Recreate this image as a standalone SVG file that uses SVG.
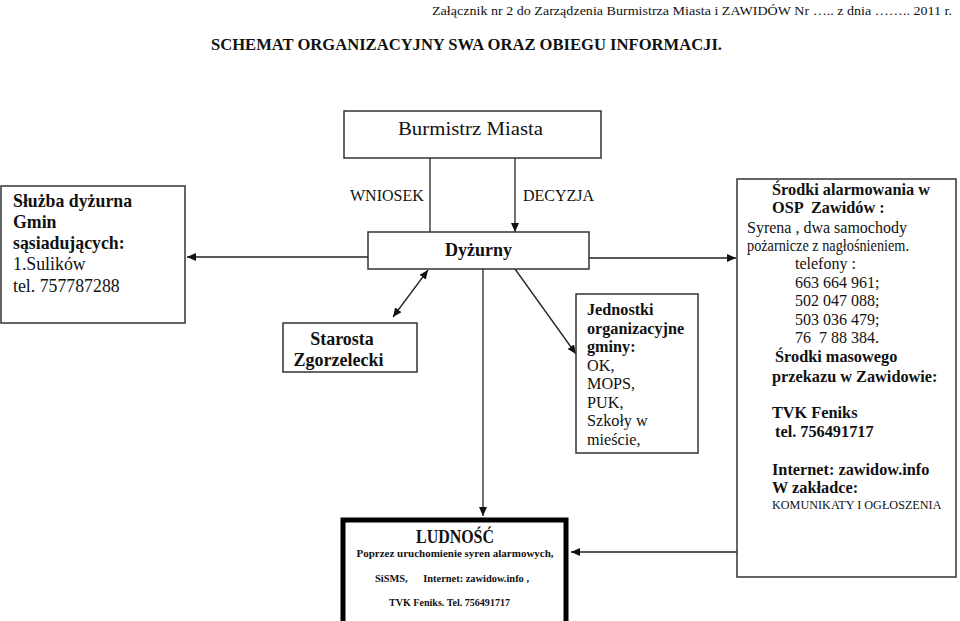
<svg xmlns="http://www.w3.org/2000/svg" width="960" height="621" viewBox="0 0 960 621">
<style>
text{font-family:"Liberation Serif","Times New Roman",serif;fill:#111}
.b{font-weight:bold}
.box{fill:#fff;stroke:#333;stroke-width:1.5}
.ln{stroke:#222;stroke-width:1.3;fill:none}
</style>
<defs>
<marker id="ah" markerUnits="userSpaceOnUse" markerWidth="10" markerHeight="8" refX="9" refY="4" orient="auto-start-reverse">
<path d="M0,0 L9,4 L0,8 Z" fill="#111"/>
</marker>
</defs>
<rect width="960" height="621" fill="#fff"/>
<text x="952" y="15" font-size="13" text-anchor="end" textLength="520" lengthAdjust="spacingAndGlyphs">Załącznik nr 2 do Zarządzenia Burmistrza Miasta i ZAWIDÓW  Nr ….. z dnia …….. 2011 r.</text>
<text x="211" y="50" font-size="16" class="b" textLength="511" lengthAdjust="spacingAndGlyphs">SCHEMAT ORGANIZACYJNY SWA ORAZ OBIEGU INFORMACJI.</text>
<g id="connectors">
<line class="ln" x1="430" y1="158" x2="430" y2="233"/>
<line class="ln" x1="515" y1="158" x2="515" y2="232" marker-end="url(#ah)"/>
<line class="ln" x1="368" y1="257" x2="187" y2="257" marker-end="url(#ah)"/>
<line class="ln" x1="589" y1="258" x2="736" y2="258" marker-end="url(#ah)"/>
<line class="ln" x1="428" y1="270" x2="393" y2="317" marker-start="url(#ah)" marker-end="url(#ah)"/>
<line class="ln" x1="515" y1="269" x2="576" y2="354" marker-end="url(#ah)"/>
<line class="ln" x1="483" y1="269" x2="483" y2="516" marker-end="url(#ah)"/>
<line class="ln" x1="737" y1="552" x2="571" y2="552" marker-end="url(#ah)"/>
</g>
<g id="burmistrz">
<rect class="box" x="344" y="111" width="257" height="47"/>
<text x="470.5" y="135" font-size="19" text-anchor="middle" textLength="145" lengthAdjust="spacingAndGlyphs">Burmistrz Miasta</text>
</g>
<g id="wniosek"><text x="350" y="201" font-size="16">WNIOSEK</text></g>
<g id="decyzja"><text x="523" y="201" font-size="16">DECYZJA</text></g>
<g id="dyzurny">
<rect class="box" x="368" y="232" width="221" height="37"/>
<text x="478.5" y="256" font-size="18" class="b" text-anchor="middle">Dyżurny</text>
</g>
<g id="sluzba">
<rect class="box" x="1" y="186" width="184" height="137"/>
<text x="13" y="207" font-size="17.8" class="b">Służba dyżurna</text>
<text x="13" y="228" font-size="17.8" class="b">Gmin</text>
<text x="13" y="249" font-size="17.8" class="b">sąsiadujących:</text>
<text x="13" y="270" font-size="17.8">1.Sulików</text>
<text x="13" y="292" font-size="17.8">tel. 757787288</text>
</g>
<g id="starosta">
<rect class="box" x="283" y="323" width="134" height="49"/>
<text x="342" y="345" font-size="18" class="b" text-anchor="middle">Starosta</text>
<text x="338.5" y="366" font-size="18" class="b" text-anchor="middle">Zgorzelecki</text>
</g>
<g id="jednostki">
<rect class="box" x="576" y="294" width="122" height="159"/>
<text x="587" y="315" font-size="16.2" class="b">Jednostki</text>
<text x="587" y="333.5" font-size="16.2" class="b">organizacyjne</text>
<text x="587" y="352" font-size="16.2" class="b">gminy:</text>
<text x="587" y="370.5" font-size="16.2">OK,</text>
<text x="587" y="389" font-size="16.2">MOPS,</text>
<text x="587" y="407.5" font-size="16.2">PUK,</text>
<text x="587" y="426" font-size="16.2">Szkoły w</text>
<text x="587" y="444.5" font-size="16.2">mieście,</text>
</g>
<g id="srodki">
<rect class="box" x="737" y="179" width="219" height="398"/>
<text x="772" y="195" font-size="16.3" class="b">Środki alarmowania w</text>
<text x="772" y="213" font-size="16.3" class="b" xml:space="preserve">OSP  Zawidów :</text>
<text x="747" y="233" font-size="16">Syrena , dwa samochody</text>
<text x="747" y="251" font-size="16" textLength="162" lengthAdjust="spacingAndGlyphs">pożarnicze z nagłośnieniem.</text>
<text x="795" y="269" font-size="16">telefony :</text>
<text x="795" y="287.5" font-size="16">663 664 961;</text>
<text x="795" y="306" font-size="16">502 047 088;</text>
<text x="795" y="324.5" font-size="16">503 036 479;</text>
<text x="795" y="343" font-size="16" xml:space="preserve">76  7 88 384.</text>
<text x="775" y="362" font-size="16.3" class="b">Środki masowego</text>
<text x="772" y="382" font-size="16.3" class="b">przekazu w Zawidowie:</text>
<text x="772" y="418" font-size="16.3" class="b">TVK Feniks</text>
<text x="775" y="437" font-size="16.3" class="b">tel. 756491717</text>
<text x="772" y="475" font-size="16.3" class="b">Internet: zawidow.info</text>
<text x="772" y="493" font-size="16.3" class="b">W zakładce:</text>
<text x="772" y="508.5" font-size="12.2">KOMUNIKATY I OGŁOSZENIA</text>
</g>
<g id="ludnosc">
<rect x="343" y="520" width="223" height="110" fill="#fff" stroke="#000" stroke-width="5"/>
<text x="455" y="543" font-size="19" class="b" text-anchor="middle" textLength="78" lengthAdjust="spacingAndGlyphs">LUDNOŚĆ</text>
<text x="455" y="557" font-size="11" class="b" text-anchor="middle">Poprzez uruchomienie syren alarmowych,</text>
<text x="375" y="582" font-size="11" class="b" xml:space="preserve" textLength="154" lengthAdjust="spacingAndGlyphs">SiSMS,      Internet: zawidow.info ,</text>
<text x="449.5" y="606" font-size="11" class="b" text-anchor="middle" textLength="121" lengthAdjust="spacingAndGlyphs">TVK Feniks. Tel. 756491717</text>
</g>
</svg>
